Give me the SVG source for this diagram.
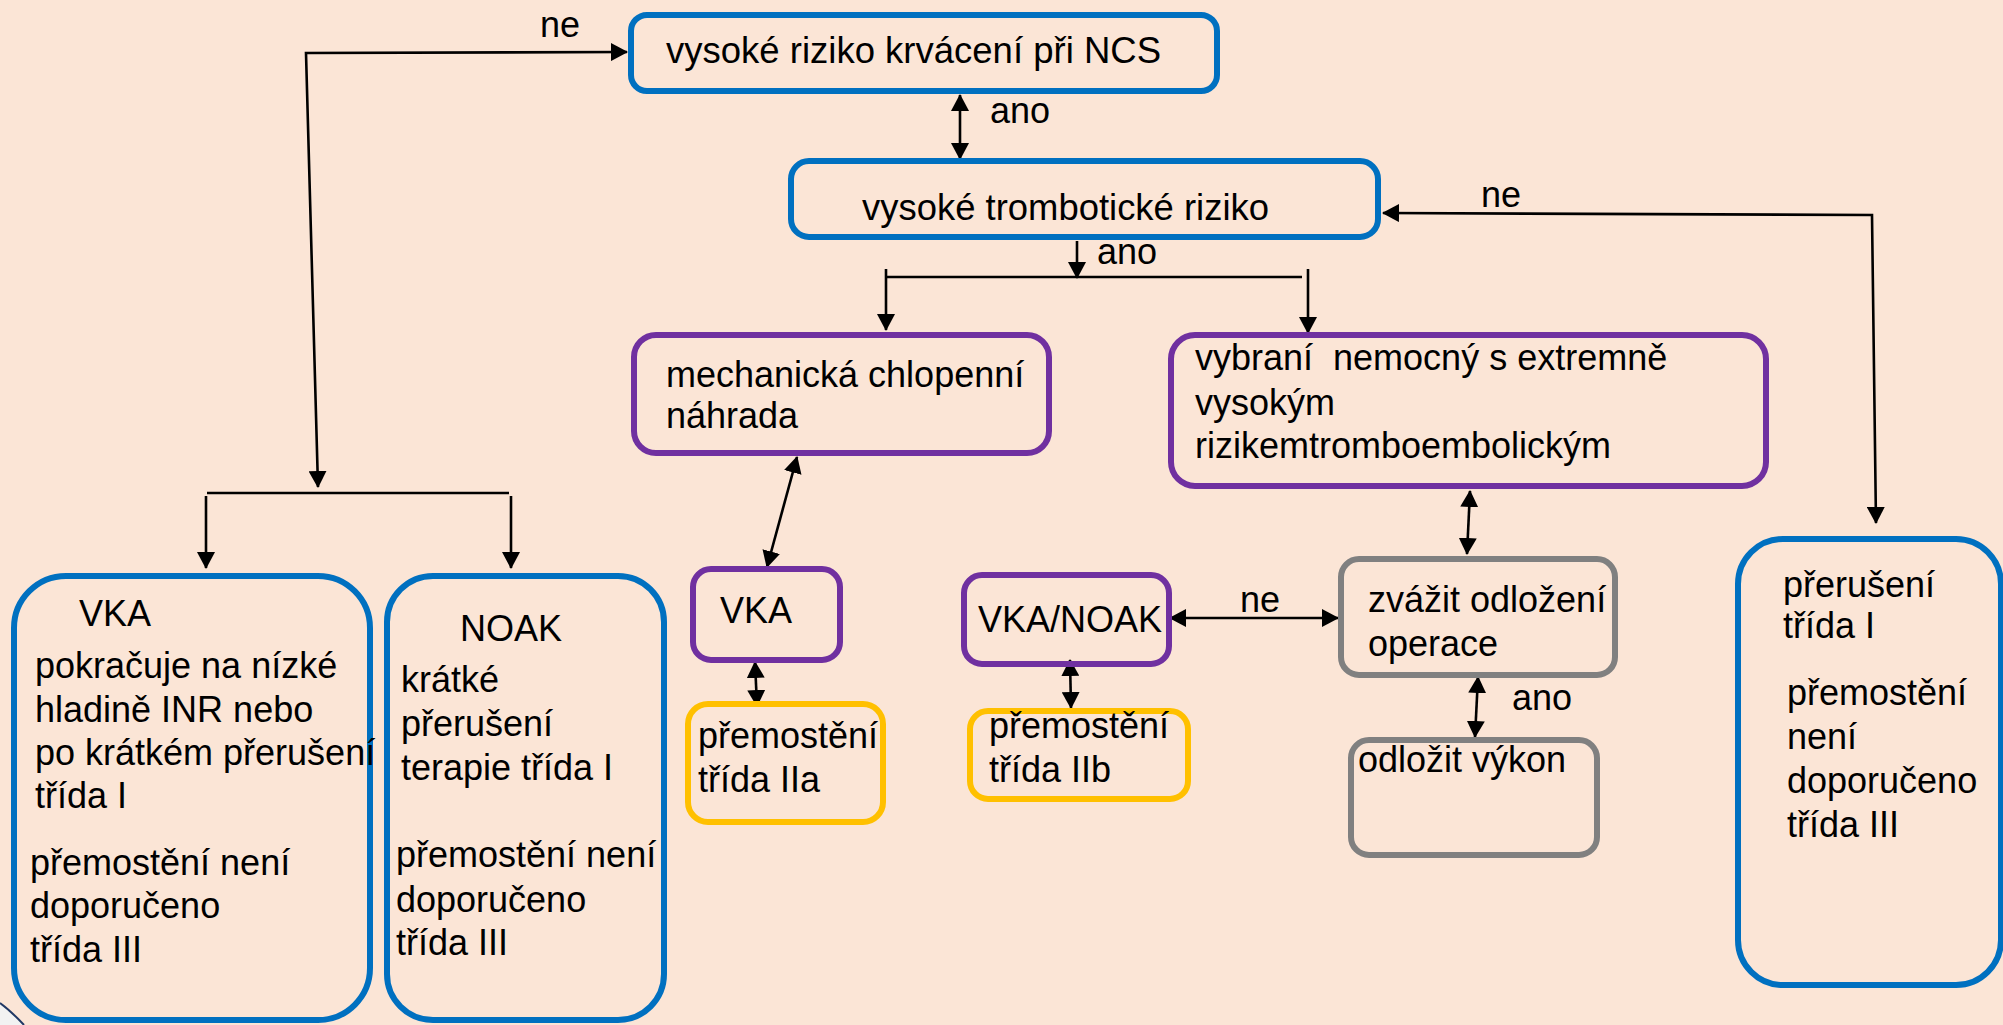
<svg xmlns="http://www.w3.org/2000/svg" width="2003" height="1025" viewBox="0 0 2003 1025">
  <defs>
    <marker id="arrow" markerUnits="userSpaceOnUse" markerWidth="17" markerHeight="18" viewBox="0 0 17 18" refX="16" refY="9" orient="auto-start-reverse">
      <path d="M0,0 L17,9 L0,18 z" fill="#000"/>
    </marker>
    <style>
      .bg { fill: #FBE5D6; }
      .box { fill: none; stroke-width: 6; }
      .blue { stroke: #0070C0; }
      .purple { stroke: #7030A0; }
      .yellow { stroke: #FFC000; }
      .gray { stroke: #808080; }
      text { font-family: "Liberation Sans", Arial, sans-serif; font-size: 36px; fill: #000; }
      .conn path { fill: none; stroke: #000; stroke-width: 2.6; }
      .pre { white-space: pre; }
    </style>
  </defs>

  <!-- slide background -->
  <rect class="bg" x="0" y="0" width="2003" height="1025"/>
  <!-- slide corner ornament -->
  <path d="M0,1003 Q11,1011 24,1025 L0,1025 Z" fill="#F2F2F2"/>
  <path d="M0,1003 Q11,1011 24,1025" fill="none" stroke="#203864" stroke-width="2"/>

  <!-- connectors -->
  <g id="connectors" class="conn">
    <path d="M627,52 L306,53 L318,487" marker-start="url(#arrow)" marker-end="url(#arrow)"/>
    <path d="M207,493 L509,493"/>
    <path d="M206,496 L206,568" marker-end="url(#arrow)"/>
    <path d="M511,496 L511,568" marker-end="url(#arrow)"/>
    <path d="M960,95 L960,159" marker-start="url(#arrow)" marker-end="url(#arrow)"/>
    <path d="M1077,241 L1077,278" marker-end="url(#arrow)"/>
    <path d="M886,277 L1302,277"/>
    <path d="M886,269 L886,330" marker-end="url(#arrow)"/>
    <path d="M1308,269 L1308,333" marker-end="url(#arrow)"/>
    <path d="M1383,213 L1872,215 L1876,523" marker-start="url(#arrow)" marker-end="url(#arrow)"/>
    <path d="M797,457 L767,567" marker-start="url(#arrow)" marker-end="url(#arrow)"/>
    <path d="M755,662 L757,706" marker-start="url(#arrow)" marker-end="url(#arrow)"/>
    <path d="M1070,660 L1071,708" marker-start="url(#arrow)" marker-end="url(#arrow)"/>
    <path d="M1170,618 L1338,618" marker-start="url(#arrow)" marker-end="url(#arrow)"/>
    <path d="M1470,491 L1467,554" marker-start="url(#arrow)" marker-end="url(#arrow)"/>
    <path d="M1478,677 L1475,737" marker-start="url(#arrow)" marker-end="url(#arrow)"/>
  </g>

  <!-- connector labels -->
  <g id="labels">
    <text x="540" y="37">ne</text>
    <text x="990" y="123">ano</text>
    <text x="1097" y="264">ano</text>
    <text x="1481" y="207">ne</text>
    <text x="1240" y="612">ne</text>
    <text x="1512" y="710">ano</text>
  </g>

  <g id="bleeding-risk">
    <rect class="box blue" x="631" y="15" width="586" height="76" rx="16"/>
    <text x="666" y="63" textLength="495" lengthAdjust="spacingAndGlyphs">vysoké riziko krvácení při NCS</text>
  </g>

  <g id="thrombotic-risk">
    <rect class="box blue" x="791" y="161" width="587" height="76" rx="18"/>
    <text x="862" y="220" textLength="407" lengthAdjust="spacingAndGlyphs">vysoké trombotické riziko</text>
  </g>

  <g id="mechanical-valve">
    <rect class="box purple" x="634" y="335" width="415" height="118" rx="22"/>
    <text x="666" y="387">mechanická chlopenní</text>
    <text x="666" y="428">náhrada</text>
  </g>

  <g id="extreme-risk">
    <rect class="box purple" x="1171" y="335" width="595" height="151" rx="24"/>
    <text class="pre" x="1195" y="370">vybraní  nemocný s extremně</text>
    <text x="1195" y="415">vysokým</text>
    <text x="1195" y="458">rizikemtromboembolickým</text>
  </g>

  <g id="valve-vka">
    <rect class="box purple" x="693" y="569" width="147" height="91" rx="18"/>
    <text x="720" y="623">VKA</text>
  </g>

  <g id="bridging-iia">
    <rect class="box yellow" x="688" y="704" width="195" height="118" rx="20"/>
    <text x="698" y="748">přemostění</text>
    <text x="698" y="792">třída IIa</text>
  </g>

  <g id="vka-noak">
    <rect class="box purple" x="964" y="575" width="205" height="89" rx="18"/>
    <text x="978" y="632">VKA/NOAK</text>
  </g>

  <g id="bridging-iib">
    <rect class="box yellow" x="970" y="711" width="218" height="88" rx="18"/>
    <text x="989" y="738">přemostění</text>
    <text x="989" y="782">třída IIb</text>
  </g>

  <g id="consider-delay">
    <rect class="box gray" x="1341" y="559" width="274" height="116" rx="18"/>
    <text x="1368" y="612">zvážit odložení</text>
    <text x="1368" y="656">operace</text>
  </g>

  <g id="delay-procedure">
    <rect class="box gray" x="1351" y="740" width="246" height="115" rx="18"/>
    <text x="1358" y="772">odložit výkon</text>
  </g>

  <g id="vka-low-risk">
    <rect class="box blue" x="14" y="576" width="356" height="444" rx="52"/>
    <text x="79" y="626">VKA</text>
    <text x="35" y="678">pokračuje na nízké</text>
    <text x="35" y="722">hladině INR nebo</text>
    <text x="35" y="765">po krátkém přerušení</text>
    <text x="35" y="808">třída I</text>
    <text x="30" y="875">přemostění není</text>
    <text x="30" y="918">doporučeno</text>
    <text x="30" y="962">třída III</text>
  </g>

  <g id="noak-low-risk">
    <rect class="box blue" x="387" y="576" width="277" height="444" rx="46"/>
    <text x="460" y="641">NOAK</text>
    <text x="401" y="692">krátké</text>
    <text x="401" y="736">přerušení</text>
    <text x="401" y="780">terapie třída I</text>
    <text x="396" y="867">přemostění není</text>
    <text x="396" y="912">doporučeno</text>
    <text x="396" y="955">třída III</text>
  </g>

  <g id="interruption">
    <rect class="box blue" x="1738" y="539" width="263" height="446" rx="45"/>
    <text x="1783" y="597">přerušení</text>
    <text x="1783" y="638">třída I</text>
    <text x="1787" y="705">přemostění</text>
    <text x="1787" y="749">není</text>
    <text x="1787" y="793">doporučeno</text>
    <text x="1787" y="837">třída III</text>
  </g>
</svg>
